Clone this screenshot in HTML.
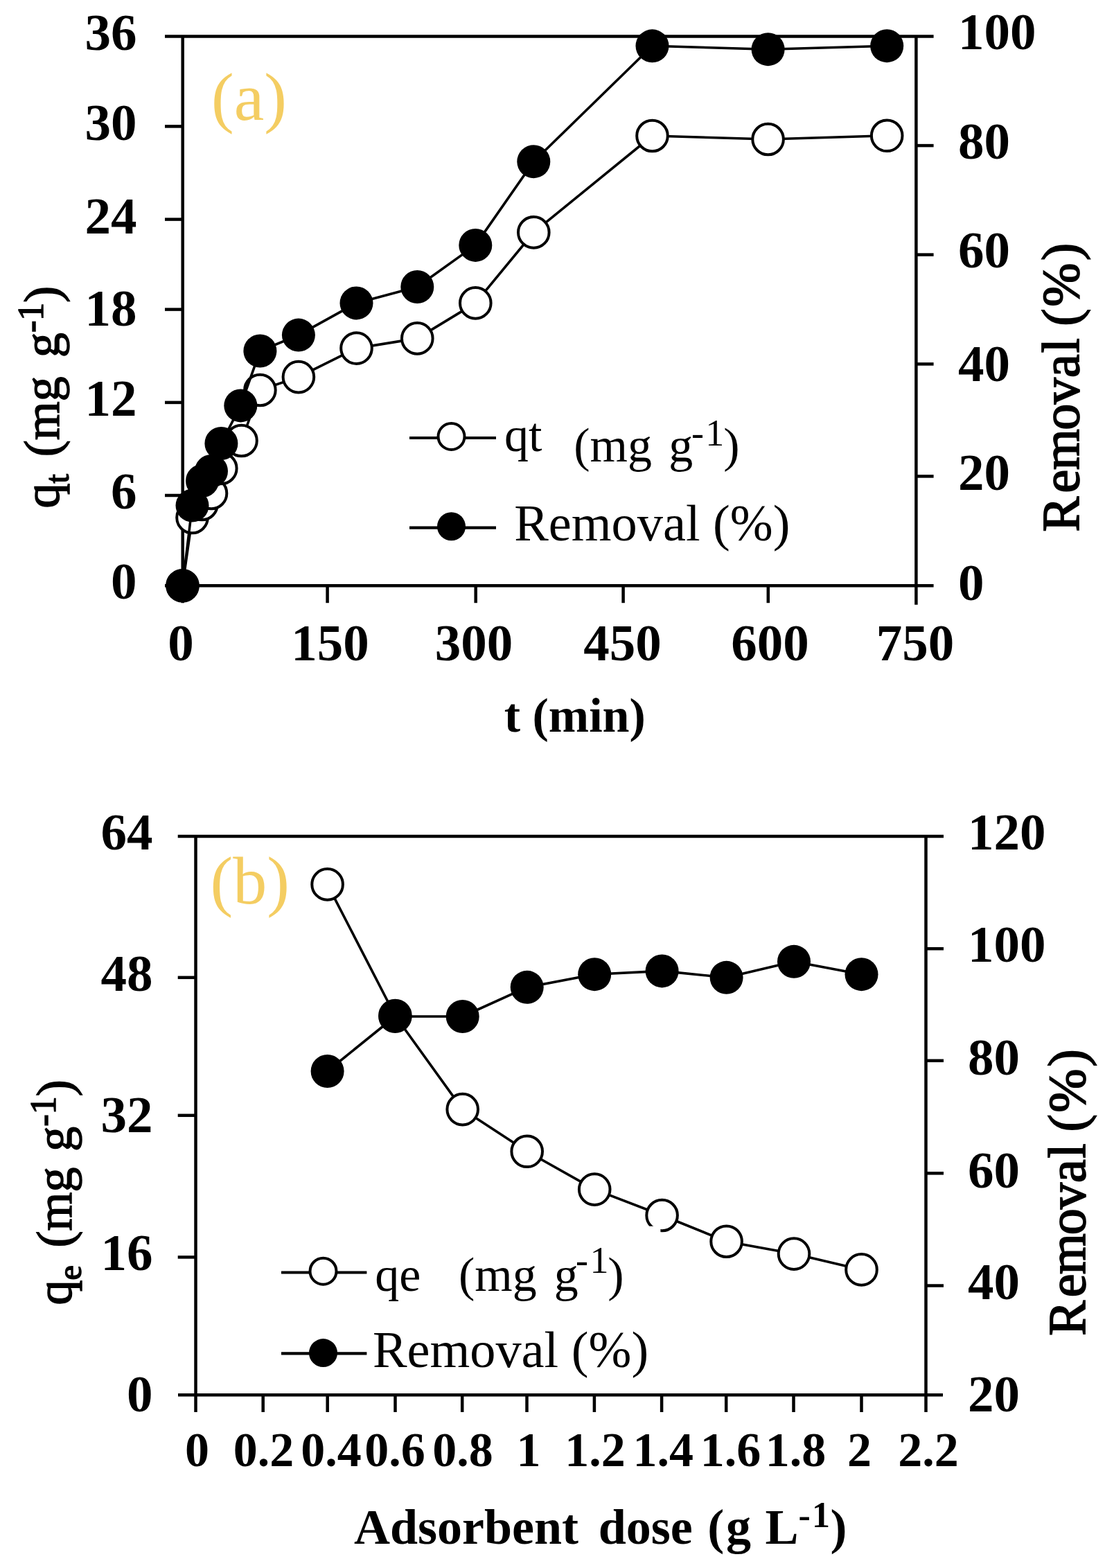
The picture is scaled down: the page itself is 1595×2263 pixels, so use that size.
<!DOCTYPE html>
<html><head><meta charset="utf-8"><title>Adsorption charts</title>
<style>
html,body{margin:0;padding:0;background:#fff;}
svg{display:block;}
text{font-family:"Liberation Serif", "Times New Roman", serif;fill:#000;white-space:pre;}
</style></head><body>
<svg width="1595" height="2263" viewBox="0 0 1595 2263">
<rect width="1595" height="2263" fill="#fff"/>
<line x1="263.7" y1="52.5" x2="263.7" y2="870.3" stroke="#000" stroke-width="4.5"/>
<line x1="1322.4" y1="52.5" x2="1322.4" y2="872.8" stroke="#000" stroke-width="4.5"/>
<line x1="238" y1="52.5" x2="1347.6" y2="52.5" stroke="#000" stroke-width="4.5"/>
<line x1="238" y1="845.3" x2="1347.6" y2="845.3" stroke="#000" stroke-width="4.5"/>
<line x1="238" y1="182.4" x2="263.7" y2="182.4" stroke="#000" stroke-width="4.5"/>
<line x1="238" y1="316.6" x2="263.7" y2="316.6" stroke="#000" stroke-width="4.5"/>
<line x1="238" y1="446.6" x2="263.7" y2="446.6" stroke="#000" stroke-width="4.5"/>
<line x1="238" y1="580.9" x2="263.7" y2="580.9" stroke="#000" stroke-width="4.5"/>
<line x1="238" y1="715.0" x2="263.7" y2="715.0" stroke="#000" stroke-width="4.5"/>
<line x1="1322.4" y1="210.1" x2="1347.6" y2="210.1" stroke="#000" stroke-width="4.5"/>
<line x1="1322.4" y1="367.6" x2="1347.6" y2="367.6" stroke="#000" stroke-width="4.5"/>
<line x1="1322.4" y1="525.4" x2="1347.6" y2="525.4" stroke="#000" stroke-width="4.5"/>
<line x1="1322.4" y1="687.4" x2="1347.6" y2="687.4" stroke="#000" stroke-width="4.5"/>
<line x1="472.6" y1="845.3" x2="472.6" y2="870.2" stroke="#000" stroke-width="4.5"/>
<line x1="686.7" y1="845.3" x2="686.7" y2="870.2" stroke="#000" stroke-width="4.5"/>
<line x1="899.6" y1="845.3" x2="899.6" y2="870.2" stroke="#000" stroke-width="4.5"/>
<line x1="1108.8" y1="845.3" x2="1108.8" y2="870.2" stroke="#000" stroke-width="4.5"/>
<text x="197.5" y="72" font-size="75" font-weight="bold" text-anchor="end" >36</text>
<text x="197.5" y="202" font-size="75" font-weight="bold" text-anchor="end" >30</text>
<text x="197.5" y="337" font-size="75" font-weight="bold" text-anchor="end" >24</text>
<text x="197.5" y="470" font-size="75" font-weight="bold" text-anchor="end" >18</text>
<text x="197.5" y="600" font-size="75" font-weight="bold" text-anchor="end" >12</text>
<text x="197.5" y="734" font-size="75" font-weight="bold" text-anchor="end" >6</text>
<text x="197.5" y="864" font-size="75" font-weight="bold" text-anchor="end" >0</text>
<text x="1383" y="71" font-size="75" font-weight="bold" text-anchor="start" >100</text>
<text x="1383" y="228.5" font-size="75" font-weight="bold" text-anchor="start" >80</text>
<text x="1383" y="386" font-size="75" font-weight="bold" text-anchor="start" >60</text>
<text x="1383" y="549.5" font-size="75" font-weight="bold" text-anchor="start" >40</text>
<text x="1383" y="707" font-size="75" font-weight="bold" text-anchor="start" >20</text>
<text x="1383" y="866" font-size="75" font-weight="bold" text-anchor="start" >0</text>
<text x="261" y="952.5" font-size="75" font-weight="bold" text-anchor="middle" >0</text>
<text x="476.6" y="952.5" font-size="75" font-weight="bold" text-anchor="middle" >150</text>
<text x="684" y="952.5" font-size="75" font-weight="bold" text-anchor="middle" >300</text>
<text x="898.5" y="952.5" font-size="75" font-weight="bold" text-anchor="middle" >450</text>
<text x="1111.5" y="952.5" font-size="75" font-weight="bold" text-anchor="middle" >600</text>
<text x="1321" y="952.5" font-size="75" font-weight="bold" text-anchor="middle" >750</text>
<polyline points="263.5,845.3 277.5,747 291.5,728 305,712 319.3,676 348.5,636 375.4,563 430.9,544.1 514.5,502.6 602.3,488.4 686.3,437.4 770.3,335.4 941.5,196 1108.6,201 1280.2,195.8" fill="none" stroke="#000" stroke-width="3.6" stroke-linejoin="round"/>
<circle cx="263.5" cy="845.3" r="22.3" fill="#fff" stroke="#000" stroke-width="4.0"/>
<circle cx="277.5" cy="747" r="22.3" fill="#fff" stroke="#000" stroke-width="4.0"/>
<circle cx="291.5" cy="728" r="22.3" fill="#fff" stroke="#000" stroke-width="4.0"/>
<circle cx="305" cy="712" r="22.3" fill="#fff" stroke="#000" stroke-width="4.0"/>
<circle cx="319.3" cy="676" r="22.3" fill="#fff" stroke="#000" stroke-width="4.0"/>
<circle cx="348.5" cy="636" r="22.3" fill="#fff" stroke="#000" stroke-width="4.0"/>
<circle cx="375.4" cy="563" r="22.3" fill="#fff" stroke="#000" stroke-width="4.0"/>
<circle cx="430.9" cy="544.1" r="22.3" fill="#fff" stroke="#000" stroke-width="4.0"/>
<circle cx="514.5" cy="502.6" r="22.3" fill="#fff" stroke="#000" stroke-width="4.0"/>
<circle cx="602.3" cy="488.4" r="22.3" fill="#fff" stroke="#000" stroke-width="4.0"/>
<circle cx="686.3" cy="437.4" r="22.3" fill="#fff" stroke="#000" stroke-width="4.0"/>
<circle cx="770.3" cy="335.4" r="22.3" fill="#fff" stroke="#000" stroke-width="4.0"/>
<circle cx="941.5" cy="196" r="22.3" fill="#fff" stroke="#000" stroke-width="4.0"/>
<circle cx="1108.6" cy="201" r="22.3" fill="#fff" stroke="#000" stroke-width="4.0"/>
<circle cx="1280.2" cy="195.8" r="22.3" fill="#fff" stroke="#000" stroke-width="4.0"/>
<polyline points="263.5,845.3 277.5,729.6 292,694 305,680 319.4,640 347.3,585.4 375.4,506.5 430.9,483.6 514.5,437.4 602.3,414 686.3,353.9 770.3,233.2 941.5,66.3 1108.6,71.2 1280.2,66.2" fill="none" stroke="#000" stroke-width="3.6" stroke-linejoin="round"/>
<circle cx="263.5" cy="845.3" r="24.0" fill="#000"/>
<circle cx="277.5" cy="729.6" r="24.0" fill="#000"/>
<circle cx="292" cy="694" r="24.0" fill="#000"/>
<circle cx="305" cy="680" r="24.0" fill="#000"/>
<circle cx="319.4" cy="640" r="24.0" fill="#000"/>
<circle cx="347.3" cy="585.4" r="24.0" fill="#000"/>
<circle cx="375.4" cy="506.5" r="24.0" fill="#000"/>
<circle cx="430.9" cy="483.6" r="24.0" fill="#000"/>
<circle cx="514.5" cy="437.4" r="24.0" fill="#000"/>
<circle cx="602.3" cy="414" r="24.0" fill="#000"/>
<circle cx="686.3" cy="353.9" r="24.0" fill="#000"/>
<circle cx="770.3" cy="233.2" r="24.0" fill="#000"/>
<circle cx="941.5" cy="66.3" r="24.0" fill="#000"/>
<circle cx="1108.6" cy="71.2" r="24.0" fill="#000"/>
<circle cx="1280.2" cy="66.2" r="24.0" fill="#000"/>
<line x1="591" y1="632" x2="716" y2="632" stroke="#000" stroke-width="4.2"/>
<circle cx="651.5" cy="630" r="19.0" fill="#fff" stroke="#000" stroke-width="4"/>
<line x1="591" y1="761.6" x2="716" y2="761.6" stroke="#000" stroke-width="4.2"/>
<circle cx="651.5" cy="759.8" r="20.5" fill="#000"/>
<text x="727.9" y="651" font-size="70" font-weight="normal">qt</text>
<text x="828.2" y="665.5" font-size="70" font-weight="normal">(mg</text>
<text x="965.2" y="665.5" font-size="70" font-weight="normal">g<tspan x="998" y="643" font-size="54">-</tspan><tspan x="1018.3" y="643" font-size="54">1</tspan><tspan x="1044.3" y="665.5">)</tspan></text>
<text x="742.3" y="780" font-size="74.3" font-weight="normal">Removal (%)</text>
<text x="305" y="173" font-size="98" font-weight="normal" text-anchor="start" style="fill:#F4CD62">(a)</text>
<text x="829.8" y="1055.5" font-size="70" font-weight="bold" text-anchor="middle" >t (min)</text>
<g transform="rotate(-90)" font-size="72" font-weight="normal" style="stroke:#000;stroke-width:1.5px"><text x="-733.6" y="85">q<tspan font-size="48" dy="14">t</tspan></text><text x="-659.2" y="85">(mg</text><text x="-516.1" y="85">g<tspan font-size="52" dy="-23">-1</tspan><tspan dy="23">)</tspan></text></g>
<text transform="rotate(-90)" x="-767.6 -711.6 -678.2 -620.8 -583.3 -545.0 -509.2 -489.5 -470.8 -442.7 -376.0" y="1557" font-size="76" font-weight="normal" style="stroke:#000;stroke-width:1.8px">Removal (%)</text>
<line x1="282.5" y1="1207.0" x2="282.5" y2="2038" stroke="#000" stroke-width="4.5"/>
<line x1="1336.5" y1="1207.0" x2="1336.5" y2="2038" stroke="#000" stroke-width="4.5"/>
<line x1="256.7" y1="1207.0" x2="1362" y2="1207.0" stroke="#000" stroke-width="4.5"/>
<line x1="257" y1="2013.3" x2="1361" y2="2013.3" stroke="#000" stroke-width="4.5"/>
<line x1="256.7" y1="1410.8" x2="282.5" y2="1410.8" stroke="#000" stroke-width="4.5"/>
<line x1="256.7" y1="1609.8" x2="282.5" y2="1609.8" stroke="#000" stroke-width="4.5"/>
<line x1="256.7" y1="1814.4" x2="282.5" y2="1814.4" stroke="#000" stroke-width="4.5"/>
<line x1="1336.5" y1="1369.2" x2="1362" y2="1369.2" stroke="#000" stroke-width="4.5"/>
<line x1="1336.5" y1="1530.8" x2="1362" y2="1530.8" stroke="#000" stroke-width="4.5"/>
<line x1="1336.5" y1="1693.3" x2="1362" y2="1693.3" stroke="#000" stroke-width="4.5"/>
<line x1="1336.5" y1="1855.5" x2="1362" y2="1855.5" stroke="#000" stroke-width="4.5"/>
<line x1="379.7" y1="2013.3" x2="379.7" y2="2038" stroke="#000" stroke-width="4.5"/>
<line x1="472.7" y1="2013.3" x2="472.7" y2="2038" stroke="#000" stroke-width="4.5"/>
<line x1="570.5" y1="2013.3" x2="570.5" y2="2038" stroke="#000" stroke-width="4.5"/>
<line x1="667.2" y1="2013.3" x2="667.2" y2="2038" stroke="#000" stroke-width="4.5"/>
<line x1="760.5" y1="2013.3" x2="760.5" y2="2038" stroke="#000" stroke-width="4.5"/>
<line x1="857.9" y1="2013.3" x2="857.9" y2="2038" stroke="#000" stroke-width="4.5"/>
<line x1="955.1" y1="2013.3" x2="955.1" y2="2038" stroke="#000" stroke-width="4.5"/>
<line x1="1048.2" y1="2013.3" x2="1048.2" y2="2038" stroke="#000" stroke-width="4.5"/>
<line x1="1145.5" y1="2013.3" x2="1145.5" y2="2038" stroke="#000" stroke-width="4.5"/>
<line x1="1243.5" y1="2013.3" x2="1243.5" y2="2038" stroke="#000" stroke-width="4.5"/>
<text x="220.5" y="1226" font-size="75" font-weight="bold" text-anchor="end" >64</text>
<text x="220.5" y="1429.5" font-size="75" font-weight="bold" text-anchor="end" >48</text>
<text x="220.5" y="1634" font-size="75" font-weight="bold" text-anchor="end" >32</text>
<text x="220.5" y="1833" font-size="75" font-weight="bold" text-anchor="end" >16</text>
<text x="220.5" y="2037" font-size="75" font-weight="bold" text-anchor="end" >0</text>
<text x="1397" y="1226" font-size="75" font-weight="bold" text-anchor="start" >120</text>
<text x="1397" y="1388" font-size="75" font-weight="bold" text-anchor="start" >100</text>
<text x="1397" y="1550.5" font-size="75" font-weight="bold" text-anchor="start" >80</text>
<text x="1397" y="1713.5" font-size="75" font-weight="bold" text-anchor="start" >60</text>
<text x="1397" y="1875" font-size="75" font-weight="bold" text-anchor="start" >40</text>
<text x="1397" y="2037" font-size="75" font-weight="bold" text-anchor="start" >20</text>
<text x="284.5" y="2116" font-size="70" font-weight="bold" text-anchor="middle" >0</text>
<text x="380.5" y="2116" font-size="70" font-weight="bold" text-anchor="middle" >0.2</text>
<text x="478" y="2116" font-size="70" font-weight="bold" text-anchor="middle" >0.4</text>
<text x="570" y="2116" font-size="70" font-weight="bold" text-anchor="middle" >0.6</text>
<text x="668" y="2116" font-size="70" font-weight="bold" text-anchor="middle" >0.8</text>
<text x="763" y="2116" font-size="70" font-weight="bold" text-anchor="middle" >1</text>
<text x="859" y="2116" font-size="70" font-weight="bold" text-anchor="middle" >1.2</text>
<text x="957.2" y="2116" font-size="70" font-weight="bold" text-anchor="middle" >1.4</text>
<text x="1054.4" y="2116" font-size="70" font-weight="bold" text-anchor="middle" >1.6</text>
<text x="1148.6" y="2116" font-size="70" font-weight="bold" text-anchor="middle" >1.8</text>
<text x="1240.6" y="2116" font-size="70" font-weight="bold" text-anchor="middle" >2</text>
<text x="1340" y="2116" font-size="70" font-weight="bold" text-anchor="middle" >2.2</text>
<polyline points="472.6,1276.4 570.4,1466 667.7,1601.1 760.7,1661.8 858.2,1716.6 955.6,1754 1048.6,1791.7 1146,1809.6 1243.5,1832.4" fill="none" stroke="#000" stroke-width="3.6" stroke-linejoin="round"/>
<circle cx="472.6" cy="1276.4" r="22.3" fill="#fff" stroke="#000" stroke-width="4.0"/>
<circle cx="570.4" cy="1466" r="22.3" fill="#fff" stroke="#000" stroke-width="4.0"/>
<circle cx="667.7" cy="1601.1" r="22.3" fill="#fff" stroke="#000" stroke-width="4.0"/>
<circle cx="760.7" cy="1661.8" r="22.3" fill="#fff" stroke="#000" stroke-width="4.0"/>
<circle cx="858.2" cy="1716.6" r="22.3" fill="#fff" stroke="#000" stroke-width="4.0"/>
<circle cx="955.6" cy="1754" r="22.3" fill="#fff" stroke="#000" stroke-width="4.0"/>
<circle cx="1048.6" cy="1791.7" r="22.3" fill="#fff" stroke="#000" stroke-width="4.0"/>
<circle cx="1146" cy="1809.6" r="22.3" fill="#fff" stroke="#000" stroke-width="4.0"/>
<circle cx="1243.5" cy="1832.4" r="22.3" fill="#fff" stroke="#000" stroke-width="4.0"/>
<polyline points="472.6,1546 570.4,1467 667.7,1467 760.7,1424.8 858.2,1406.2 955.6,1401.4 1048.6,1410.8 1146,1387.8 1243.5,1406.2" fill="none" stroke="#000" stroke-width="3.6" stroke-linejoin="round"/>
<circle cx="472.6" cy="1546" r="24.0" fill="#000"/>
<circle cx="570.4" cy="1467" r="24.0" fill="#000"/>
<circle cx="667.7" cy="1467" r="24.0" fill="#000"/>
<circle cx="760.7" cy="1424.8" r="24.0" fill="#000"/>
<circle cx="858.2" cy="1406.2" r="24.0" fill="#000"/>
<circle cx="955.6" cy="1401.4" r="24.0" fill="#000"/>
<circle cx="1048.6" cy="1410.8" r="24.0" fill="#000"/>
<circle cx="1146" cy="1387.8" r="24.0" fill="#000"/>
<circle cx="1243.5" cy="1406.2" r="24.0" fill="#000"/>
<rect x="395" y="1769.7" width="558.4" height="225" fill="#fff"/>
<line x1="406" y1="1836.5" x2="529.4" y2="1836.5" stroke="#000" stroke-width="4.2"/>
<circle cx="466.5" cy="1834.7" r="19.0" fill="#fff" stroke="#000" stroke-width="4"/>
<line x1="406" y1="1953.4" x2="529.4" y2="1953.4" stroke="#000" stroke-width="4.2"/>
<circle cx="466.5" cy="1952.6" r="20.5" fill="#000"/>
<text x="541.2" y="1862.5" font-size="70" font-weight="normal">qe</text>
<text x="662" y="1862.5" font-size="70" font-weight="normal">(mg</text>
<text x="799.7" y="1862.5" font-size="70" font-weight="normal">g<tspan x="831" y="1837" font-size="54">-</tspan><tspan x="851.6" y="1837" font-size="54">1</tspan><tspan x="877.3" y="1862.5">)</tspan></text>
<text x="538" y="1973" font-size="74.3" font-weight="normal">Removal (%)</text>
<text x="303.5" y="1304" font-size="98" font-weight="normal" text-anchor="start" style="fill:#F4CD62">(b)</text>
<g font-size="72" font-weight="bold"><text x="510.9" y="2228">Adsorbent</text><text x="863.7" y="2228">dose</text><text x="1021.2 1048.1 1086 1104.4" y="2228">(g L<tspan x="1152.4" y="2204" font-size="52">-</tspan><tspan x="1172" y="2204" font-size="52">1</tspan><tspan x="1198.4" y="2228">)</tspan></text></g>
<g transform="rotate(-90)" font-size="72" font-weight="normal" style="stroke:#000;stroke-width:1.5px"><text x="-1883.6" y="103">q<tspan font-size="48" dy="14">e</tspan></text><text x="-1800.4" y="103">(mg</text><text x="-1661.7" y="103">g<tspan font-size="52" dy="-23">-1</tspan><tspan dy="23">)</tspan></text></g>
<text transform="rotate(-90)" x="-1927.8 -1872.3 -1839.2 -1782.2 -1745.0 -1707.0 -1671.5 -1652.0 -1633.5 -1605.7 -1539.4" y="1566" font-size="76" font-weight="normal" style="stroke:#000;stroke-width:1.8px">Removal (%)</text>
</svg>
</body></html>
